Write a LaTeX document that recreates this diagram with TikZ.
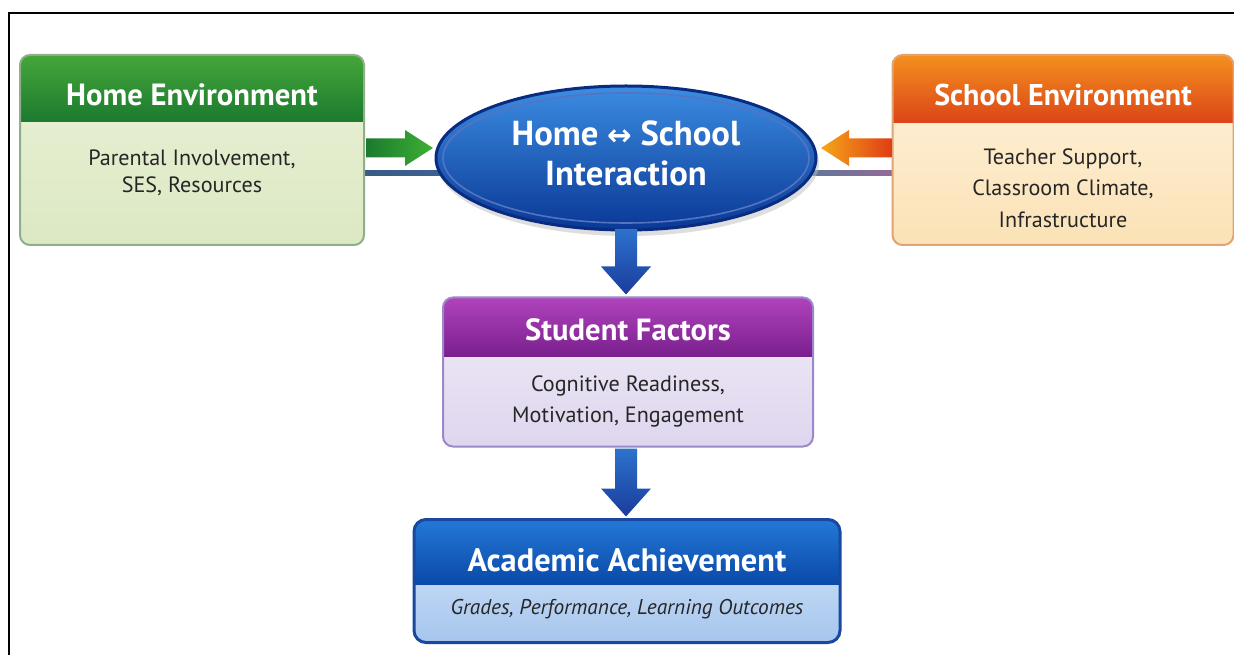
\documentclass[tikz,border=0pt]{standalone}
\usepackage{fontspec}
\setmainfont{PT Sans}
\newfontfamily\arrowfont{DejaVu Sans}
\usetikzlibrary{calc,shapes.geometric}
\newdimen\px \px=0.75pt
\definecolor{homeHeadT}{HTML}{45A63A}
\definecolor{homeHeadB}{HTML}{1B7A2E}
\definecolor{homeBodyT}{HTML}{EAF2D6}
\definecolor{homeBodyB}{HTML}{DCE8C4}
\definecolor{homeLine}{HTML}{8FAE8A}
\definecolor{schHeadT}{HTML}{F3901E}
\definecolor{schHeadB}{HTML}{DC4418}
\definecolor{schBodyT}{HTML}{FEF3DD}
\definecolor{schBodyB}{HTML}{FBE2B6}
\definecolor{schLine}{HTML}{E2A472}
\definecolor{stuHeadT}{HTML}{B043BC}
\definecolor{stuHeadB}{HTML}{7A1F8E}
\definecolor{stuBodyT}{HTML}{F1ECF8}
\definecolor{stuBodyB}{HTML}{DED6EE}
\definecolor{stuLine}{HTML}{9A88C8}
\definecolor{acaHeadT}{HTML}{2478D6}
\definecolor{acaHeadB}{HTML}{0A49A8}
\definecolor{acaBodyT}{HTML}{D8E7F8}
\definecolor{acaBodyB}{HTML}{A6C6EE}
\definecolor{acaLine}{HTML}{1848A0}
\definecolor{ellT}{HTML}{3C8DE2}
\definecolor{ellB}{HTML}{0A3896}
\definecolor{ellLine}{HTML}{0A2C80}
\definecolor{txt}{HTML}{262626}
\definecolor{arrT}{HTML}{2D72CC}
\definecolor{arrB}{HTML}{1A3C9C}
\definecolor{steel}{HTML}{4672A8}
\definecolor{mauve}{HTML}{946A98}
\tikzset{
  boxframe/.style={draw=#1, line width=2\px, rounded corners=10\px},
  headtext/.style={text=white, font=\fontsize{23}{27}\selectfont\bfseries, inner sep=0},
  bodytext/.style={text=txt, font=\fontsize{16.6}{#1}\selectfont, align=center, inner sep=0},
  holder/.style={inner sep=0, outer sep=0}
}
\begin{document}
\begin{tikzpicture}[x=0.75pt,y=-0.75pt]
\useasboundingbox (0,0) rectangle (1234,655);
\fill[white] (0,0) rectangle (1234,655);
\coordinate (frameA) at (9,655);
\coordinate (frameB) at (9,13);
\coordinate (frameC) at (1234,13);
\draw[line width=2.2\px, black] (frameA) -- (frameB) -- (frameC);

% ---------- nodes (holders)
\node[holder, minimum width=344\px, minimum height=190\px] (home) at (192,150) {};
\node[holder, minimum width=341\px, minimum height=190\px] (school) at (1063,150) {};
\node[holder, minimum width=370\px, minimum height=149\px] (student) at (628,372) {};
\node[holder, minimum width=426\px, minimum height=123\px] (acad) at (627,581) {};
\node[holder, ellipse, minimum width=380\px, minimum height=146\px] (ia) at (626,158) {};

% ---------- thin lines under the ellipse
\shade[left color=steel!80!black, right color=steel] ($(home.east)+(0,20.5)$) rectangle ($(ia.center)+(0,17.5)$);
\shade[left color=steel!60!gray, right color=mauve] ($(ia.east)+(-10,13)$) rectangle ($(school.west)+(0,25.5)$);

% ---------- Home box
\begin{scope}
\clip[rounded corners=10\px] (home.north west) rectangle (home.south east);
\shade[top color=homeBodyT, bottom color=homeBodyB] (home.north west) rectangle (home.south east);
\shade[top color=homeHeadT, bottom color=homeHeadB] (home.north west) rectangle ($(home.north east)+(0,67)$);
\end{scope}
\draw[boxframe=homeLine] (home.north west) rectangle (home.south east);
\node[headtext] (homeH) at ($(home.north)+(0,40)$) {Home Environment};
\node[bodytext=20.5] (homeB) at ($(home.north)+(0,118)$) {Parental Involvement,\\SES, Resources};

% ---------- School box
\begin{scope}
\clip[rounded corners=10\px] (school.north west) rectangle (school.south east);
\shade[top color=schBodyT, bottom color=schBodyB] (school.north west) rectangle (school.south east);
\shade[top color=schHeadT, bottom color=schHeadB] (school.north west) rectangle ($(school.north east)+(0,68)$);
\end{scope}
\draw[boxframe=schLine] (school.north west) rectangle (school.south east);
\node[headtext, font=\fontsize{22.5}{27}\selectfont\bfseries] (schoolH) at ($(school.north)+(0,40)$) {School Environment};
\node[bodytext=23.5] (schoolB) at ($(school.north)+(0,133)$) {Teacher Support,\\Classroom Climate,\\Infrastructure};

% ---------- Student box
\begin{scope}
\clip[rounded corners=10\px] (student.north west) rectangle (student.south east);
\shade[top color=stuBodyT, bottom color=stuBodyB] (student.north west) rectangle (student.south east);
\shade[top color=stuHeadT, bottom color=stuHeadB] (student.north west) rectangle ($(student.north east)+(0,59)$);
\end{scope}
\draw[boxframe=stuLine] (student.north west) rectangle (student.south east);
\node[headtext] (studentH) at ($(student.north)+(0,32)$) {Student Factors};
\node[bodytext=23] (studentB) at ($(student.north)+(0,104)$) {Cognitive Readiness,\\Motivation, Engagement};

% ---------- Academic box
\begin{scope}
\clip[rounded corners=12\px] (acad.north west) rectangle (acad.south east);
\shade[top color=acaBodyT, bottom color=acaBodyB] (acad.north west) rectangle (acad.south east);
\shade[top color=acaHeadT, bottom color=acaHeadB] (acad.north west) rectangle ($(acad.north east)+(0,65)$);
\end{scope}
\draw[draw=acaLine, line width=3\px, rounded corners=12\px] (acad.north west) rectangle (acad.south east);
\node[headtext, font=\fontsize{24.3}{30}\selectfont\bfseries] (acadH) at ($(acad.north)+(0,41)$) {Academic Achievement};
\node[bodytext=18, font=\fontsize{16}{18}\selectfont\itshape] (acadB) at ($(acad.north)+(0,90)$) {Grades, Performance, Learning Outcomes};

% ---------- Ellipse
\fill[black!25, opacity=0.5] ($(ia.center)+(2,5)$) ellipse [x radius=191, y radius=73];
\shade[top color=ellT, bottom color=ellB, draw=ellLine, line width=3\px] (ia.center) ellipse [x radius=190, y radius=72];
\draw[white!55!cyan!50!blue, line width=1.6\px] (ia.center) ellipse [x radius=183, y radius=65];
\node[text=white, font=\fontsize{26}{30}\selectfont\bfseries, align=center, inner sep=0] (iaT) at ($(ia.center)+(0,-5)$) {Home {\arrowfont\fontsize{22}{30}\selectfont ↔} School\\Interaction};

% ---------- Green arrow home -> ellipse
\coordinate (gs) at ($(home.east)+(2,-2)$);
\coordinate (gt) at ($(gs -| ia.west)+(-3,0)$);
\shade[left color=homeHeadB, right color=homeHeadT!90!green]
  ($(gs)+(0,-9.5)$) -- ($(gt)+(-28,-9.5)$) -- ($(gt)+(-28,-18)$) -- (gt) --
  ($(gt)+(-28,18)$) -- ($(gt)+(-28,9.5)$) -- ($(gs)+(0,9.5)$) -- cycle;

% ---------- Orange arrow school -> ellipse
\coordinate (os) at ($(school.west)+(-1,-2)$);
\coordinate (ot) at ($(os -| ia.east)+(5,0)$);
\shade[left color=schHeadT!80!yellow, right color=schHeadB!90!red]
  ($(os)+(0,-9.5)$) -- ($(ot)+(28,-9.5)$) -- ($(ot)+(28,-18)$) -- (ot) --
  ($(ot)+(28,18)$) -- ($(ot)+(28,9.5)$) -- ($(os)+(0,9.5)$) -- cycle;

% ---------- Blue arrow ellipse -> student
\coordinate (d1s) at ($(ia.south)+(0,-2)$);
\coordinate (d1t) at ($(student.north)+(-2,-3)$);
\shade[top color=arrT, bottom color=arrB]
  ($(d1s)+(-11,0)$) -- ($(d1t)+(-11,-28)$) -- ($(d1t)+(-25,-28)$) -- (d1t) --
  ($(d1t)+(25,-28)$) -- ($(d1t)+(11,-28)$) -- ($(d1s)+(11,0)$) -- cycle;

% ---------- Blue arrow student -> academic
\coordinate (d2s) at ($(student.south)+(-2,2)$);
\coordinate (d2t) at ($(acad.north)+(-1,-3)$);
\shade[top color=arrT, bottom color=arrB]
  ($(d2s)+(-11,0)$) -- ($(d2t)+(-11,-28)$) -- ($(d2t)+(-25,-28)$) -- (d2t) --
  ($(d2t)+(25,-28)$) -- ($(d2t)+(11,-28)$) -- ($(d2s)+(11,0)$) -- cycle;
\end{tikzpicture}
\end{document}
